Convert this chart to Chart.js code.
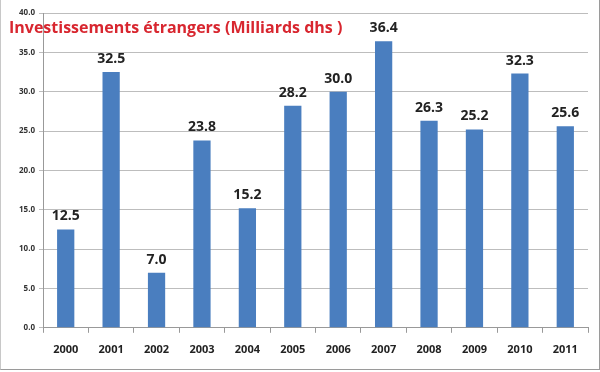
<!DOCTYPE html>
<html>
<head>
<meta charset="utf-8">
<script src="https://cdn.jsdelivr.net/npm/chart.js@4"></script>
<style>
  html, body { margin: 0; padding: 0; background: #fff; }
  #wrap { position: relative; width: 598px; height: 369px; border: 1px solid #9a9a9a; border-top: none; border-left: 1px solid #c8c8c8; }
</style>
</head>
<body>
<div id="wrap"><canvas id="chart" width="598" height="369"></canvas></div>
<script>
const years = ["2000", "2001", "2002", "2003", "2004", "2005", "2006", "2007", "2008", "2009", "2010", "2011"];
const investments = [12.5, 32.5, 7.0, 23.8, 15.2, 28.2, 30.0, 36.4, 26.3, 25.2, 32.3, 25.6];
const chartTitle = "Investissements étrangers (Milliards dhs )";

// value labels above each bar + overlaid title
const labelsPlugin = {
  id: "barLabels",
  afterDatasetsDraw(chart) {
    const ctx = chart.ctx;
    const meta = chart.getDatasetMeta(0);
    ctx.save();
    ctx.font = "bold 14px 'Open Sans', sans-serif";
    ctx.fillStyle = "#222";
    ctx.textAlign = "center";
    ctx.textBaseline = "bottom";
    meta.data.forEach((bar, i) => {
      ctx.fillText(investments[i].toFixed(1), bar.x, bar.y - 6);
    });
    ctx.font = "bold 16px 'Open Sans', sans-serif";
    ctx.fillStyle = "#d8262f";
    ctx.textAlign = "left";
    ctx.textBaseline = "middle";
    ctx.fillText(chartTitle, 8, 28);
    ctx.restore();
  },
};

new Chart(document.getElementById("chart"), {
  type: "bar",
  data: {
    labels: years,
    datasets: [
      {
        data: investments,
        backgroundColor: "#4a7ebf",
        barPercentage: 0.38,
        categoryPercentage: 1,
      },
    ],
  },
  options: {
    responsive: false,
    animation: false,
    layout: { padding: { top: 13, right: 11, left: 14, bottom: 3 } },
    scales: {
      x: {
        grid: { drawOnChartArea: false, color: "#999", tickLength: 5 },
        border: { color: "#999" },
        ticks: { color: "#222", font: { size: 11, weight: "bold", family: "'Open Sans', sans-serif" }, padding: 10 },
      },
      y: {
        min: 0,
        max: 40,
        ticks: {
          stepSize: 5,
          color: "#333",
          font: { size: 8, family: "'Open Sans', sans-serif", weight: "bold" },
          callback: (v) => v.toFixed(1),
          padding: 4,
        },
        grid: { color: "#bdbdbd", tickLength: 4 },
        border: { color: "#999" },
      },
    },
    plugins: {
      legend: { display: false },
      tooltip: { enabled: false },
    },
  },
  plugins: [labelsPlugin],
});
</script>
</body>
</html>
